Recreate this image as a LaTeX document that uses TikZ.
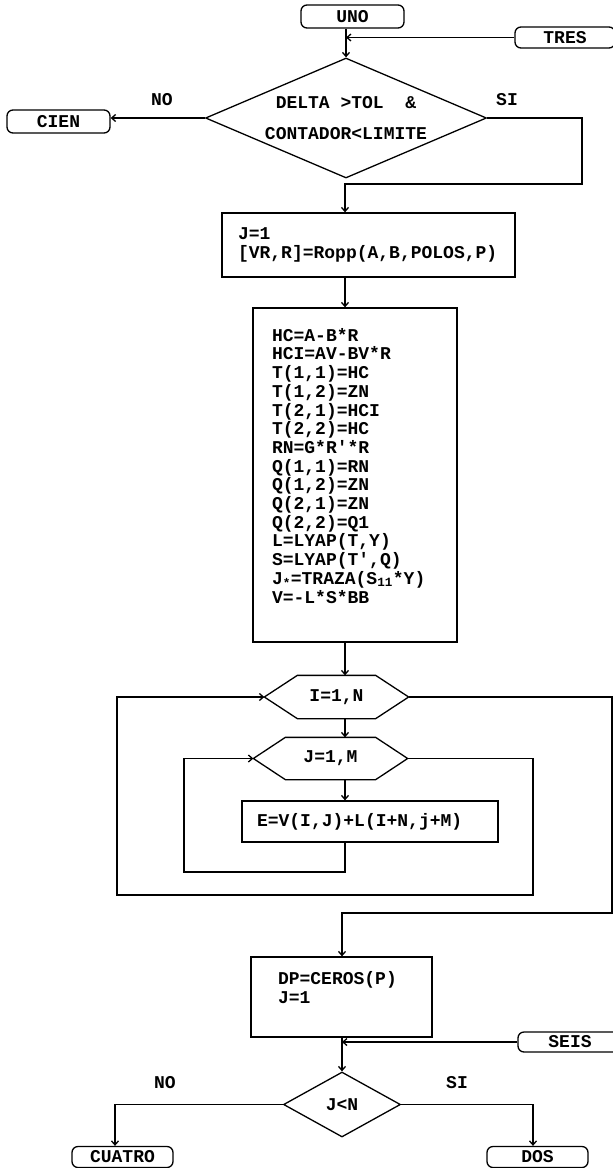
\documentclass[tikz,border=0pt]{standalone}
\usepackage{fontspec}
\newfontfamily\chartfont{Liberation Mono}
\usetikzlibrary{shapes.geometric,arrows.meta}

\tikzset{
  every node/.style={font=\chartfont\bfseries\fontsize{18}{18.7}\selectfont},
  term/.style={draw, rounded corners=6pt, minimum height=23pt, inner sep=0pt},
  proc/.style={draw, align=left, inner ysep=0pt},
  decision/.style={draw, diamond, inner sep=0pt},
  loopnode/.style={inner sep=0pt, minimum height=42pt},
  flow/.style={-{Straight Barb[length=4pt,width=7pt]}}
}
% hexagon round a loop node: name, chamfer
\newcommand\hexborder[2]{%
  \draw (#1.west) -- ([xshift=#2]#1.north west) -- ([xshift=-#2]#1.north east)
    -- (#1.east) -- ([xshift=-#2]#1.south east) -- ([xshift=#2]#1.south west) -- cycle;}

\begin{document}
\begin{tikzpicture}[x=1pt, y=-1pt, line width=1.3pt]
  \useasboundingbox (0,0) rectangle (613,1168);
  \clip (0,0) rectangle (613,1168);
  \coordinate (axis) at (345,0);

  % entry and first test
  \node[term, minimum width=103pt] (uno) at (352.5,16.5) {UNO};
  \node[term, minimum width=100pt, minimum height=21pt] (tres) at (565,37.5) {TRES};
  \node[term, minimum width=103pt] (cien) at (58.5,121.5) {CIEN};
  \node[decision, minimum width=281pt, minimum height=120pt, shape aspect=2.34, align=center]
    (cond) at (346,118) {DELTA >TOL~~\&\\[12pt]CONTADOR<LIMITE};
  \node (no1) at (162,100) {NO};
  \node (si1) at (507,100) {SI};

  % blocks
  \node[proc, text width=261pt, inner xsep=16pt, minimum height=64pt]
    (ropp) at (368.5,245) {J=1\\{}[VR,R]=Ropp(A,B,POLOS,P)};
  \node[proc, text width=166pt, inner xsep=19pt, minimum height=334pt]
    (calc) at (355,475) {HC=A-B*R\\HCI=AV-BV*R\\T(1,1)=HC\\T(1,2)=ZN\\T(2,1)=HCI\\T(2,2)=HC\\
      RN=G*R'*R\\Q(1,1)=RN\\Q(1,2)=ZN\\Q(2,1)=ZN\\Q(2,2)=Q1\\L=LYAP(T,Y)\\S=LYAP(T',Q)\\
      J\textsubscript{*}=TRAZA(S\textsubscript{11}*Y)\\V=-L*S*BB\\\mbox{}};

  % nested loops
  \node[loopnode, minimum width=143pt] (loopi) at (336.5,697) {I=1,N};
  \hexborder{loopi}{33pt}
  \node[loopnode, minimum width=153pt, minimum height=41pt] (loopj) at (330.5,758.5) {J=1,M};
  \hexborder{loopj}{32pt}
  \node[proc, text width=226pt, inner xsep=15pt, minimum height=41pt]
    (suma) at (370,821.5) {E=V(I,J)+L(I+N,j+M)};

  % last part
  \node[proc, text width=127pt, inner xsep=27pt, minimum height=80pt]
    (ceros) at (341.5,997) {DP=CEROS(P)\\J=1\\\mbox{}};
  \node[term, minimum width=104pt, minimum height=20pt] (seis) at (570,1042) {SEIS};
  \node[decision, minimum width=117pt, minimum height=65pt, shape aspect=1.8]
    (test) at (342,1104.5) {J<N};
  \node (no2) at (165,1083) {NO};
  \node (si2) at (457,1083) {SI};
  \node[term, minimum width=101pt, minimum height=21pt] (cuatro) at (122.5,1157) {CUATRO};
  \node[term, minimum width=101pt, minimum height=21pt] (dos) at (537.5,1157) {DOS};

  % connectors
  \draw[flow] (uno.south -| cond.north) -- (cond.north);
  \draw[flow] (tres.west) -- (tres.west -| cond.north);
  \draw[flow] (cond.west) -- (cond.west -| cien.east);
  \coordinate (bend1) at (582,184);
  \draw[flow] (cond.east) -| (bend1) -- (bend1 -| axis) -- (ropp.north -| axis);
  \draw[flow] (ropp.south -| axis) -- (calc.north -| axis);
  \draw[flow] (calc.south -| axis) -- (loopi.north -| axis);
  \draw[flow] (loopi.south -| axis) -- (loopj.north -| axis);
  \draw[flow] (loopj.south -| axis) -- (suma.north -| axis);
  \coordinate (jback) at (184,872);
  \draw[flow] (suma.south -| axis) |- (jback) |- (loopj.west);
  \coordinate (jexit) at (533,895);
  \coordinate (iback) at (117,895);
  \draw[flow] (loopj.east) -| (jexit) -- (iback) |- (loopi.west);
  \coordinate (iexit) at (612,913);
  \draw[flow] (loopi.east) -| (iexit) -- (iexit -| test.north) -- (ceros.north -| test.north);
  \draw[flow] (ceros.south -| test.north) -- (test.north);
  \draw[flow] (seis.west) -- (seis.west -| test.north);
  \draw[flow] (test.west) -| ([xshift=-7.5pt]cuatro.north);
  \draw[flow] (test.east) -| ([xshift=-4.5pt]dos.north);
\end{tikzpicture}
\end{document}
